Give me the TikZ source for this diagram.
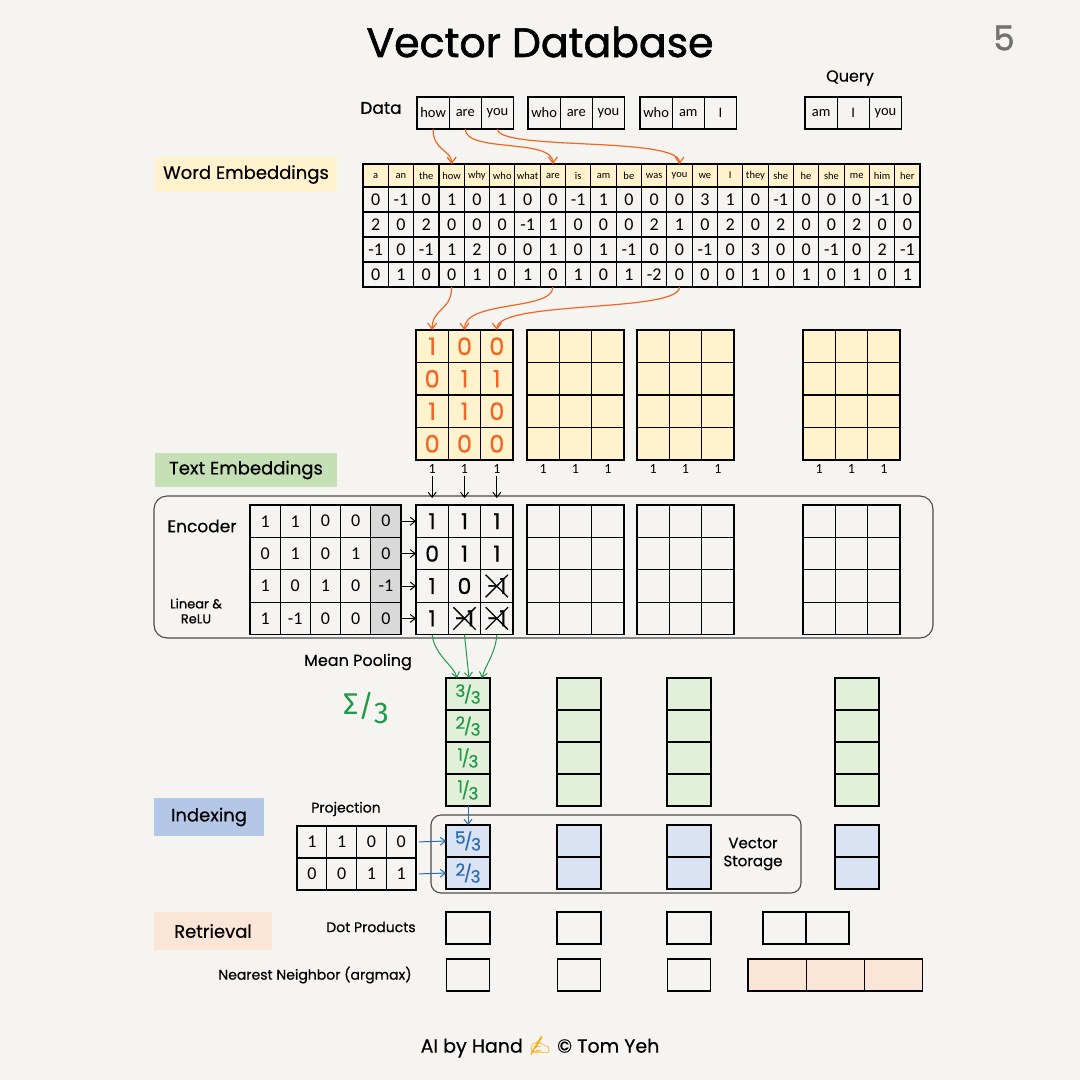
\documentclass[tikz,border=0pt]{standalone}
\usepackage{fontspec}
\setmainfont{Carlito}
\newfontfamily\hand{Poppins}[FakeBold=0.5]
\newfontfamily\handb{Poppins}[FakeBold=1.4]
\newfontfamily\greek{Fira Sans}
\newfontfamily\emo{Noto Emoji}
\usetikzlibrary{arrows.meta}
\definecolor{paper}{HTML}{F6F4F1}
\definecolor{ylw}{HTML}{FFF2CC}
\definecolor{grn}{HTML}{E2F0D9}
\definecolor{grntag}{HTML}{C5E0B4}
\definecolor{blu}{HTML}{DAE3F3}
\definecolor{blutag}{HTML}{B4C7E7}
\definecolor{pch}{HTML}{FBE5D6}
\definecolor{orng}{HTML}{F26522}
\definecolor{hgreen}{HTML}{1E9A48}
\definecolor{hblue}{HTML}{2B6CB0}
\definecolor{wgray}{HTML}{D9D9D9}
\definecolor{handy}{HTML}{F2B01E}
\newcommand\myfs[1]{\fontsize{#1}{#1}\selectfont}
\newcommand\hfr[2]{\raisebox{0.22em}{#1}\kern-0.08em/\kern-0.08em\raisebox{-0.18em}{#2}}
\tikzset{
  cell/.style={draw=black, line width=1.1pt, inner sep=0pt, outer sep=0pt},
  tag/.style={inner sep=0pt, font=\hand\myfs{18}},
  lab/.style={inner sep=0pt, font=\hand\myfs{15}},
  oarr/.style={draw=orng, line width=1.2pt, -{Straight Barb[length=6pt,width=9pt]}},
  barr/.style={draw=black, line width=1pt, -{Straight Barb[length=5pt,width=8pt]}},
  garr/.style={draw=hgreen, line width=1pt, -{Straight Barb[length=5pt,width=8pt]}},
  blarr/.style={draw=hblue, line width=1pt, -{Straight Barb[length=5pt,width=8pt]}},
  frame/.style={draw=black!70, line width=1.1pt, rounded corners=13pt, inner sep=0pt}
}
\begin{document}
\begin{tikzpicture}[x=1pt,y=-1pt]
\fill[paper] (0,0) rectangle (1080,1080);
\useasboundingbox (0,0) rectangle (1080,1080);

% title
\node[font=\handb\myfs{41}] (title) at (540,42) {Vector Database};
\node[font=\handb\myfs{34}, text=black!55] (pagenum) at (1004,38) {5};

% data
\node[lab, font=\hand\myfs{17}] (datalab) at (381,108) {Data};
\node[lab, font=\hand\myfs{16}] (querylab) at (850,78) {Query};
\foreach \w [count=\i from 0] in {how,are,you}
  \node[cell, minimum width=32.2pt, minimum height=32pt, font=\myfs{14.5}] (d1-\i) at ({417+32.2*(\i+0.5)},113) {\w};
\foreach \w [count=\i from 0] in {who,are,you}
  \node[cell, minimum width=32.2pt, minimum height=32pt, font=\myfs{14.5}] (d2-\i) at ({528+32.2*(\i+0.5)},113) {\w};
\foreach \w [count=\i from 0] in {who,am,I}
  \node[cell, minimum width=32.2pt, minimum height=32pt, font=\myfs{14.5}] (d3-\i) at ({640+32.2*(\i+0.5)},113) {\w};
\foreach \w [count=\i from 0] in {am,I,you}
  \node[cell, minimum width=32.2pt, minimum height=32pt, font=\myfs{14.5}] (q-\i) at ({805+32.2*(\i+0.5)},113) {\w};

% word embeddings
\node[tag, fill=ylw, minimum width=182pt, minimum height=35pt] (wetag) at (246,174.5) {Word Embeddings};
\foreach \w [count=\i from 0] in {a,an,the,how,why,who,what,are,is,am,be,was,you,we,I,they,she,he,she,me,him,her}
  \node[cell, fill=ylw, minimum width=25.32pt, minimum height=23pt, font=\myfs{10.5}] (h\i) at ({363+25.32*(\i+0.5)},175.5) {\w};
\foreach \rv [count=\r from 0] in {
  {0,-1,0,1,0,1,0,0,-1,1,0,0,0,3,1,0,-1,0,0,0,-1,0},
  {2,0,2,0,0,0,-1,1,0,0,0,2,1,0,2,0,2,0,0,2,0,0},
  {-1,0,-1,1,2,0,0,1,0,1,-1,0,0,-1,0,3,0,0,-1,0,2,-1},
  {0,1,0,0,1,0,1,0,1,0,1,-2,0,0,0,1,0,1,0,1,0,1}}
  \foreach \v [count=\c from 0] in \rv
    \node[cell, minimum width=25.32pt, minimum height=25pt, font=\myfs{18}] (t\r-\c) at ({363+25.32*(\c+0.5)},{199.5+25*\r}) {\v};

\draw[oarr] (d1-0.south) .. controls +(0,22) and +(0,-14) .. (h3.north);
\draw[oarr] (d1-1.south) .. controls +(0,24) and +(0,-26) .. (h7.north);
\draw[oarr] (d1-2.south) .. controls +(0,22) and +(0,-28) .. (h12.north);

% text embedding matrices
\foreach \L [count=\k] in {416,527,637,803} {
  \foreach \r in {0,...,3}
    \foreach \c in {0,1,2}
      \node[cell, fill=ylw, minimum width=32.33pt, minimum height=32.5pt] (m\k-\r-\c) at ({\L+32.33*(\c+0.5)},{330+32.5*(\r+0.5)}) {};
  \foreach \c in {0,1,2}
    \node[inner sep=0pt, font=\myfs{14}] (one\k-\c) at ({\L+32.33*(\c+0.5)},469) {1};
}
\foreach \rv [count=\r from 0] in {{1,0,0},{0,1,1},{1,1,0},{0,0,0}}
  \foreach \v [count=\c from 0] in \rv
    \node[text=orng, font=\hand\myfs{24}, inner sep=0pt] (mv\r-\c) at (m1-\r-\c) {\v};

\draw[oarr] (t3-3.south) .. controls +(0,24) and +(0,-22) .. (m1-0-0.north);
\draw[oarr] (t3-7.south) .. controls +(0,24) and +(0,-30) .. (m1-0-1.north);
\draw[oarr] (t3-12.south) .. controls +(0,26) and +(0,-30) .. (m1-0-2.north);

\node[tag, fill=grntag, minimum width=182pt, minimum height=34pt] (tetag) at (246,470) {Text Embeddings};

% encoder
\node[frame, minimum width=779pt, minimum height=142pt] (encbox) at (543.5,567) {};
\node[lab, font=\hand\myfs{17}] (enclab) at (202,526) {Encoder};
\node[lab, font=\hand\myfs{13}, align=center] (linlab) at (196,611) {Linear \&\\[2pt] ReLU};
\foreach \rv [count=\r from 0] in {{1,1,0,0,0},{0,1,0,1,0},{1,0,1,0,-1},{1,-1,0,0,0}}
  \foreach \v [count=\c from 0] in \rv {
    \ifnum\c=4
      \node[cell, fill=wgray, minimum width=30.2pt, minimum height=32.4pt, font=\myfs{18}] (w\r-\c) at ({250+30.2*(\c+0.5)},{505+32.4*(\r+0.5)}) {\v};
    \else
      \node[cell, minimum width=30.2pt, minimum height=32.4pt, font=\myfs{18}] (w\r-\c) at ({250+30.2*(\c+0.5)},{505+32.4*(\r+0.5)}) {\v};
    \fi
  }
\foreach \L [count=\k] in {416,527,637,803}
  \foreach \r in {0,...,3}
    \foreach \c in {0,1,2}
      \node[cell, minimum width=32.33pt, minimum height=32.4pt] (e\k-\r-\c) at ({\L+32.33*(\c+0.5)},{505+32.4*(\r+0.5)}) {};
\foreach \rv [count=\r from 0] in {{1,1,1},{0,1,1},{1,0,-1},{1,-1,-1}}
  \foreach \v [count=\c from 0] in \rv
    \node[font=\hand\myfs{22}, inner sep=0pt] (ev\r-\c) at (e1-\r-\c) {\v};
\foreach \r/\c in {2/2,3/1,3/2} {
  \draw[line width=1.3pt] ([shift={(5,5)}]e1-\r-\c.north west) -- ([shift={(-5,-5)}]e1-\r-\c.south east);
  \draw[line width=1.3pt] ([shift={(-5,5)}]e1-\r-\c.north east) -- ([shift={(5,-5)}]e1-\r-\c.south west);
}
\foreach \r in {0,...,3}
  \draw[barr] (w\r-4.east) -- (e1-\r-0.west);
\foreach \c in {0,1,2}
  \draw[barr, shorten <=2pt, shorten >=7pt] (one1-\c.south) -- (e1-0-\c.north);

% mean pooling
\node[lab, font=\hand\myfs{16}] (mplab) at (358,662) {Mean Pooling};
\node[text=hgreen, font=\greek\myfs{30}, inner sep=0pt] (sig) at (366,708) {Σ\raisebox{-0.05em}{/}\raisebox{-0.3em}{3}};
\foreach \L [count=\k] in {446,557,667,835}
  \foreach \r in {0,...,3}
    \node[cell, fill=grn, minimum width=44pt, minimum height=32pt] (p\k-\r) at ({\L+22},{678+32*(\r+0.5)}) {};
\foreach \n [count=\r from 0] in {3,2,1,1}
  \node[text=hgreen, font=\hand\myfs{17}, inner sep=0pt] (pv\r) at (p1-\r) {\hfr{\n}{3}};
\draw[garr] (e1-3-0.south) .. controls +(2,20) and +(-3,-12) .. ([xshift=-11pt]p1-0.north);
\draw[garr] (e1-3-1.south) -- ([xshift=1pt]p1-0.north);
\draw[garr] (e1-3-2.south) .. controls +(-1,18) and +(3,-12) .. ([xshift=14pt]p1-0.north);

% indexing
\node[tag, fill=blutag, minimum width=110pt, minimum height=38pt] (ixtag) at (209,817) {Indexing};
\node[lab, font=\hand\myfs{14}] (projlab) at (346,809) {Projection};
\foreach \rv [count=\r from 0] in {{1,1,0,0},{0,0,1,1}}
  \foreach \v [count=\c from 0] in \rv
    \node[cell, minimum width=29.75pt, minimum height=32pt, font=\myfs{18}] (pr\r-\c) at ({297+29.75*(\c+0.5)},{826+32*(\r+0.5)}) {\v};
\node[frame, rounded corners=10pt, minimum width=370pt, minimum height=78pt] (storebox) at (616,854) {};
\node[lab, font=\hand\myfs{15}, align=center] (storelab) at (753,854) {Vector\\[3pt]Storage};
\foreach \L [count=\k] in {446,557,667,835}
  \foreach \r in {0,1}
    \node[cell, fill=blu, minimum width=44pt, minimum height=32pt] (v\k-\r) at ({\L+22},{825+32*(\r+0.5)}) {};
\foreach \n [count=\r from 0] in {5,2}
  \node[text=hblue, font=\hand\myfs{17}, inner sep=0pt] (vv\r) at (v1-\r) {\hfr{\n}{3}};
\draw[blarr] (p1-3.south) -- (v1-0.north);
\foreach \r in {0,1}
  \draw[blarr, shorten <=3pt] (pr\r-3.east) -- (v1-\r.west);

% retrieval
\node[tag, fill=pch, minimum width=118pt, minimum height=38pt] (rttag) at (213,931) {Retrieval};
\node[lab, font=\hand\myfs{14}] (dotlab) at (371,927) {Dot Products};
\node[lab, font=\hand\myfs{14}] (nnlab) at (315,975) {Nearest Neighbor (argmax)};
\foreach \L [count=\k] in {446,557,667}
  \node[cell, minimum width=44pt, minimum height=32pt] (dp\k) at ({\L+22},928) {};
\node[cell, minimum width=43pt, minimum height=32pt] (dq1) at (784.5,928) {};
\node[cell, minimum width=43pt, minimum height=32pt] (dq2) at (827.5,928) {};
\foreach \L [count=\k] in {446,557,667}
  \node[cell, minimum width=43pt, minimum height=32pt] (nn\k) at ({\L+22},975) {};
\foreach \i in {0,1,2}
  \node[cell, fill=pch, minimum width=58.3pt, minimum height=32pt] (nq\i) at ({748+58.3*(\i+0.5)},975) {};

% footer
\node[font=\hand\myfs{19}] (footer) at (540,1047) {AI by Hand {\emo\color{handy}✍} © Tom Yeh};
\end{tikzpicture}
\end{document}
